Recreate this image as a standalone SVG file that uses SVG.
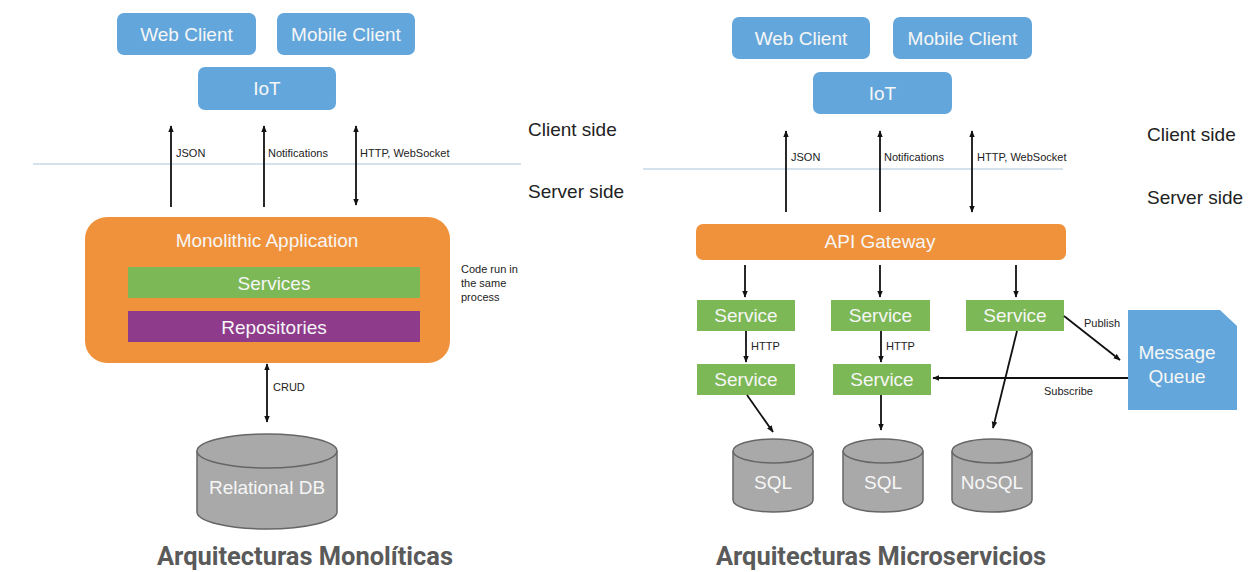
<svg xmlns="http://www.w3.org/2000/svg" width="1255" height="572" viewBox="0 0 1255 572">
<style>
.blue{fill:#63a6db}
.orange{fill:#f0923b}
.green{fill:#7cb855}
.purple{fill:#8e3b8c}
.db{fill:#a9a9a9;stroke:#666;stroke-width:1.5}
.lbl{font-family:"Liberation Sans",Arial,sans-serif;font-size:19px;fill:#f6f6f6;text-anchor:middle}
.small{font-family:"Liberation Sans",Arial,sans-serif;font-size:11px;fill:#222}
.side{font-family:"Liberation Sans",Arial,sans-serif;font-size:19px;fill:#222}
.cap{font-family:Roboto,"Liberation Sans",sans-serif;font-size:25px;font-weight:bold;fill:#5a5a5a}
.ln{stroke:#111;stroke-width:1.8;fill:none}
.sep{stroke:#a9c6dc;stroke-width:1.2}
</style>
<defs>
<marker id="ah" viewBox="0 0 10 10" refX="9" refY="5" markerWidth="7" markerHeight="7" orient="auto-start-reverse" markerUnits="userSpaceOnUse">
<path d="M0,1 L10,5 L0,9 Z" fill="#111"/>
</marker>
</defs>
<rect width="1255" height="572" fill="#fff"/>

<!-- LEFT: Monolithic -->
<line class="sep" x1="33" y1="164" x2="521" y2="164"/>
<g id="l-web"><rect class="blue" x="117" y="13" width="139" height="42" rx="7"/><text class="lbl" x="186.5" y="41">Web Client</text></g>
<g id="l-mobile"><rect class="blue" x="277" y="13" width="138" height="42" rx="7"/><text class="lbl" x="346" y="41">Mobile Client</text></g>
<g id="l-iot"><rect class="blue" x="198" y="67" width="138" height="43" rx="7"/><text class="lbl" x="267" y="95">IoT</text></g>
<text class="side" x="528" y="136">Client side</text>
<text class="side" x="528" y="198">Server side</text>
<g id="l-mono">
<rect class="orange" x="85" y="217" width="365" height="146" rx="22"/>
<text class="lbl" x="267" y="247">Monolithic Application</text>
</g>
<g id="l-services"><rect class="green" x="128" y="267" width="292" height="31"/><text class="lbl" x="274" y="290">Services</text></g>
<g id="l-repos"><rect class="purple" x="128" y="311" width="292" height="31"/><text class="lbl" x="274" y="334">Repositories</text></g>
<text class="small" x="461" y="273">Code run in</text>
<text class="small" x="461" y="287">the same</text>
<text class="small" x="461" y="301">process</text>
<g id="l-db">
<path class="db" d="M197,451 L197,512 A70,17 0 0 0 337,512 L337,451"/>
<ellipse class="db" cx="267" cy="451" rx="70" ry="17"/>
<text class="lbl" x="267" y="494">Relational DB</text>
</g>

<!-- RIGHT: Microservices -->
<line class="sep" x1="643" y1="169" x2="1063" y2="169"/>
<g id="r-web"><rect class="blue" x="732" y="17" width="138" height="42" rx="7"/><text class="lbl" x="801" y="45">Web Client</text></g>
<g id="r-mobile"><rect class="blue" x="893" y="17" width="139" height="42" rx="7"/><text class="lbl" x="962.5" y="45">Mobile Client</text></g>
<g id="r-iot"><rect class="blue" x="813" y="72" width="139" height="42" rx="7"/><text class="lbl" x="882.5" y="100">IoT</text></g>
<text class="side" x="1147" y="141">Client side</text>
<text class="side" x="1147" y="204">Server side</text>
<g id="r-gateway"><rect class="orange" x="696" y="224" width="370" height="36" rx="7"/><text class="lbl" x="880" y="248">API Gateway</text></g>
<g id="r-s1"><rect class="green" x="697" y="300" width="98" height="31"/><text class="lbl" x="746" y="322">Service</text></g>
<g id="r-s2"><rect class="green" x="831" y="300" width="99" height="31"/><text class="lbl" x="880.5" y="322">Service</text></g>
<g id="r-s3"><rect class="green" x="966" y="300" width="98" height="31"/><text class="lbl" x="1015" y="322">Service</text></g>
<g id="r-s4"><rect class="green" x="697" y="364" width="98" height="31"/><text class="lbl" x="746" y="386">Service</text></g>
<g id="r-s5"><rect class="green" x="833" y="364" width="98" height="31"/><text class="lbl" x="882" y="386">Service</text></g>
<g id="r-mq">
<path d="M1128,310 L1220,310 L1237,326 L1237,410 L1128,410 Z" fill="#63a6db"/>
<text class="lbl" x="1177" y="359">Message</text>
<text class="lbl" x="1177" y="383">Queue</text>
</g>
<g id="r-sql1">
<path class="db" d="M733,451 L733,500 A40,12 0 0 0 813,500 L813,451"/>
<ellipse class="db" cx="773" cy="451" rx="40" ry="12"/>
<text class="lbl" x="773" y="489">SQL</text>
</g>
<g id="r-sql2">
<path class="db" d="M843,451 L843,500 A40,12 0 0 0 923,500 L923,451"/>
<ellipse class="db" cx="883" cy="451" rx="40" ry="12"/>
<text class="lbl" x="883" y="489">SQL</text>
</g>
<g id="r-nosql">
<path class="db" d="M952,451 L952,500 A40,12 0 0 0 1032,500 L1032,451"/>
<ellipse class="db" cx="992" cy="451" rx="40" ry="12"/>
<text class="lbl" x="992" y="489">NoSQL</text>
</g>

<g id="connectors">
<!-- left -->
<line class="ln" x1="171" y1="207" x2="171" y2="126" marker-end="url(#ah)"/>
<line class="ln" x1="264" y1="207" x2="264" y2="126" marker-end="url(#ah)"/>
<line class="ln" x1="356" y1="205" x2="356" y2="126" marker-start="url(#ah)" marker-end="url(#ah)"/>
<line class="ln" x1="267" y1="364" x2="267" y2="422" marker-start="url(#ah)" marker-end="url(#ah)"/>
<text class="small" x="176" y="157">JSON</text>
<text class="small" x="268" y="157">Notifications</text>
<text class="small" x="360" y="157">HTTP, WebSocket</text>
<text class="small" x="273" y="391">CRUD</text>
<!-- right -->
<line class="ln" x1="786" y1="212" x2="786" y2="131" marker-end="url(#ah)"/>
<line class="ln" x1="880" y1="212" x2="880" y2="131" marker-end="url(#ah)"/>
<line class="ln" x1="972" y1="212" x2="972" y2="131" marker-start="url(#ah)" marker-end="url(#ah)"/>
<text class="small" x="791" y="161">JSON</text>
<text class="small" x="884" y="161">Notifications</text>
<text class="small" x="977" y="161">HTTP, WebSocket</text>
<line class="ln" x1="745" y1="265" x2="745" y2="297" marker-end="url(#ah)"/>
<line class="ln" x1="880" y1="265" x2="880" y2="297" marker-end="url(#ah)"/>
<line class="ln" x1="1016" y1="265" x2="1016" y2="297" marker-end="url(#ah)"/>
<line class="ln" x1="746" y1="331" x2="746" y2="362" marker-end="url(#ah)"/>
<line class="ln" x1="881" y1="331" x2="881" y2="362" marker-end="url(#ah)"/>
<text class="small" x="751" y="350">HTTP</text>
<text class="small" x="886" y="350">HTTP</text>
<line class="ln" x1="1064" y1="316" x2="1120" y2="360" marker-end="url(#ah)"/>
<text class="small" x="1084" y="327">Publish</text>
<line class="ln" x1="1128" y1="378" x2="933" y2="378" marker-end="url(#ah)"/>
<text class="small" x="1044" y="395">Subscribe</text>
<line class="ln" x1="747" y1="395" x2="773" y2="432" marker-end="url(#ah)"/>
<line class="ln" x1="881" y1="395" x2="881" y2="430" marker-end="url(#ah)"/>
<line class="ln" x1="1017" y1="331" x2="993" y2="428" marker-end="url(#ah)"/>
</g>

<text class="cap" x="157" y="565" textLength="296" lengthAdjust="spacingAndGlyphs">Arquitecturas Monolíticas</text>
<text class="cap" x="716" y="565" textLength="330" lengthAdjust="spacingAndGlyphs">Arquitecturas Microservicios</text>
</svg>
